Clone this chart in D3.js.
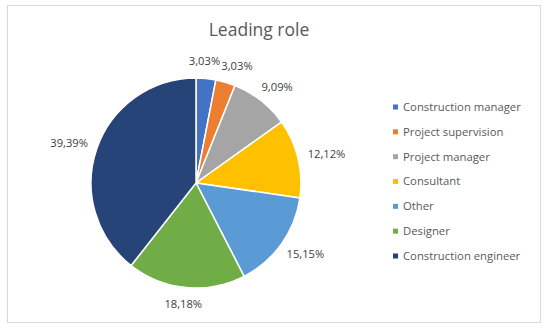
<!DOCTYPE html>
<html>
<head>
<meta charset="utf-8">
<script src="https://cdn.jsdelivr.net/npm/d3@7"></script>
<style>
  body { margin: 0; background: #fff; }
  text { font-family: "Open Sans", "Liberation Sans", sans-serif; }
</style>
</head>
<body>
<svg id="chart" width="550" height="329"></svg>
<script>
// chart data
const roles = ["Construction manager", "Project supervision", "Project manager", "Consultant", "Other", "Designer", "Construction engineer"];
const shares = [3.03, 3.03, 9.09, 12.12, 15.15, 18.18, 39.39];
const shareLabels = ["3,03%", "3,03%", "9,09%", "12,12%", "15,15%", "18,18%", "39,39%"];
const roleColors = ["#4472C4", "#ED7D31", "#A5A5A5", "#FFC000", "#5B9BD5", "#70AD47", "#264478"];

const svg = d3.select("#chart");

// frame
svg.append("rect")
  .attr("x", 7.5).attr("y", 5.5)
  .attr("width", 533).attr("height", 317)
  .attr("fill", "#fff")
  .attr("stroke", "#d9d9d9")
  .attr("stroke-width", 1);

svg.append("text")
  .attr("x", 259).attr("y", 36)
  .attr("text-anchor", "middle")
  .attr("font-size", 17.5)
  .attr("fill", "#595959")
  .text("Leading role");

const cx = 196, cy = 183, r = 105;
const color = d3.scaleOrdinal().domain(roles).range(roleColors);

const pie = d3.pie().sort(null).value(d => d.value);
const arcs = pie(roles.map((k, i) => ({ key: k, value: shares[i], label: shareLabels[i] })));
const arc = d3.arc().innerRadius(0).outerRadius(r);

const g = svg.append("g").attr("transform", `translate(${cx},${cy})`);

g.selectAll("path")
  .data(arcs)
  .join("path")
    .attr("d", arc)
    .attr("fill", d => color(d.data.key))
    .attr("stroke", "#fff")
    .attr("stroke-width", 1.5);

// labels outside the slices
const labelR = r + 11;
const labelPos = arcs.map(d => {
  const a = (d.startAngle + d.endAngle) / 2;
  const w = d.data.label.length * 6.1;
  const s = Math.sin(a), c = Math.cos(a);
  return {
    x: s * labelR + s * w / 2,
    y: -c * labelR - c * 6,
    w: w,
    text: d.data.label
  };
});
// push apart overlapping neighbours
for (let i = 1; i < labelPos.length; i++) {
  const a = labelPos[i - 1], b = labelPos[i];
  const overlap = (a.x + a.w / 2) - (b.x - b.w / 2);
  if (overlap > 0 && Math.abs(a.y - b.y) < 12) {
    a.x -= overlap / 2 + 1;
    b.x += overlap / 2 + 1;
  }
}

g.selectAll("text.lbl")
  .data(labelPos)
  .join("text")
    .attr("class", "lbl")
    .attr("x", d => d.x)
    .attr("y", d => d.y)
    .attr("dy", "0.35em")
    .attr("text-anchor", "middle")
    .attr("font-size", 11.2)
    .attr("fill", "#404040")
    .text(d => d.text);

// legend
const ly = d3.scalePoint().domain(roles).range([107, 256]);
const legend = svg.append("g");
const item = legend.selectAll("g")
  .data(roles)
  .join("g")
    .attr("transform", d => `translate(393,${ly(d)})`);
item.append("rect")
  .attr("x", 0).attr("y", -2.5)
  .attr("width", 5).attr("height", 5)
  .attr("fill", d => color(d));
item.append("text")
  .attr("x", 10).attr("dy", "0.35em")
  .attr("font-size", 11.3)
  .attr("fill", "#595959")
  .text(d => d);
</script>
</body>
</html>
